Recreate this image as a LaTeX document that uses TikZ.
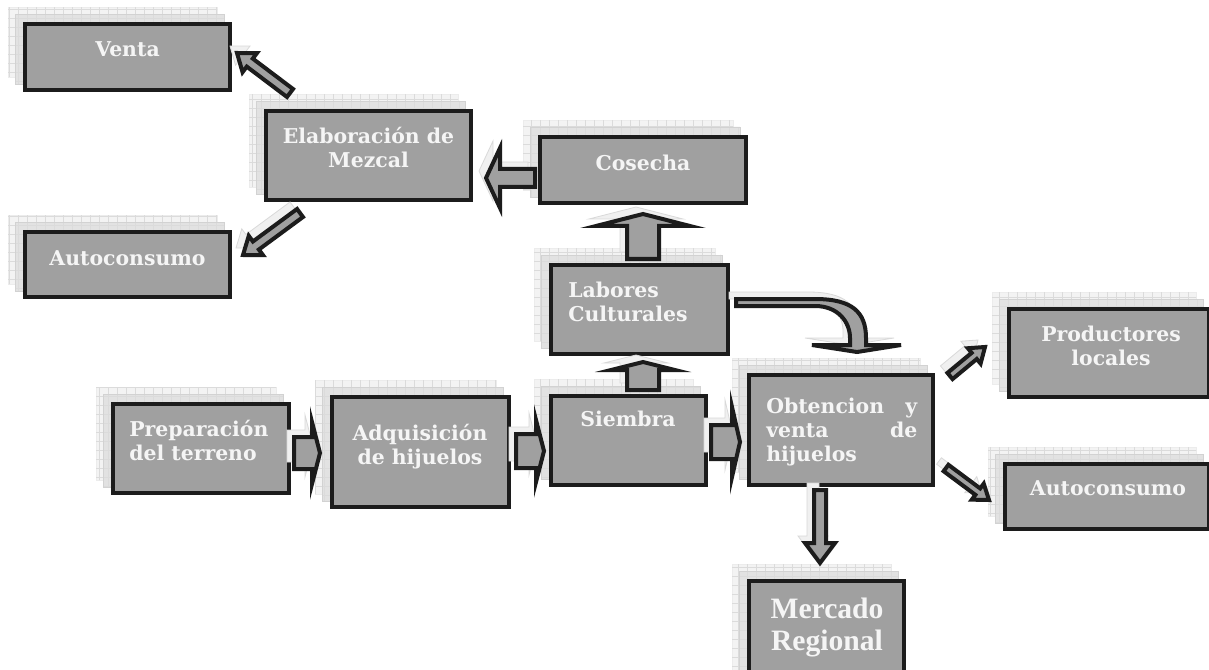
\documentclass[tikz,border=0pt]{standalone}
\usepackage{fontspec}
\setmainfont{DejaVu Serif}
\newfontfamily\timesf{Liberation Serif}
\usetikzlibrary{calc}
\definecolor{boxgray}{HTML}{A0A0A0}
\definecolor{edge}{HTML}{1C1C1C}
\definecolor{txtw}{HTML}{F5F5F5}
\definecolor{shlightc}{HTML}{F3F3F3}
\definecolor{shmedc}{HTML}{E2E2E2}
\tikzset{
  boxsty/.style={draw=edge, fill=boxgray, line width=3pt, inner sep=0pt},
  txt/.style={text=txtw, inner sep=0pt, font=\bfseries\fontsize{15.3pt}{18pt}\selectfont},
  txtbig/.style={text=txtw, inner sep=0pt, font=\timesf\bfseries\fontsize{22.2pt}{24.5pt}\selectfont},
  arrsty/.style={draw=edge, fill=boxgray, line width=3pt, line join=miter},
  ghost/.style={draw=gray!30, fill=gray!12, line width=0.6pt, transform canvas={shift={(-7,-7)}}},
  shlight/.style={fill=shlightc, draw=gray!15, line width=0.5pt},
  shmed/.style={fill=shmedc, draw=gray!35, line width=0.5pt},
  shgrid/.style={draw=gray!28, line width=0.25pt}
}
% box: name, x1, y1, x2, y2 (outer edges in px)
\newcommand\mybox[5]{%
  \fill[shlight] ({#2-15},{#3-15}) rectangle ({#4-15},{#5-15});
  \fill[shmed] ({#2-8},{#3-8}) rectangle ({#4-8},{#5-8});
  \begin{scope}
    \clip ({#2-15},{#3-15}) rectangle ({#4-15},{#5-15}) ({#2-8},{#3-8}) rectangle ({#4-8},{#5-8});
    \draw[shgrid, step=6.75pt] ({#2-15},{#3-15}) grid ({#4-8},{#5-8});
  \end{scope}
  \draw[gray!35, line width=0.5pt] ({#2-8},{#3-8}) rectangle ({#4-8},{#5-8});
  \pgfmathsetmacro\bw{(#4-#2-4)*0.75}%
  \pgfmathsetmacro\bh{(#5-#3-4)*0.75}%
  \node[boxsty, minimum width=\bw pt, minimum height=\bh pt] (#1) at ({(#2+#4)/2},{(#3+#5)/2}) {};
}
% block arrow: [style] start, tip, half shaft, half head, head length (px)
\newcommand\barrow[6][arrsty]{%
  \coordinate (baB) at ($(#3)!{#6*0.75pt}!(#2)$);
  \path[#1] ($(#2)!{#4*0.75pt}!90:(#3)$) -- ($(baB)!{#4*0.75pt}!90:(#3)$)
    -- ($(baB)!{#5*0.75pt}!90:(#3)$) -- (#3) -- ($(baB)!{#5*0.75pt}!-90:(#3)$)
    -- ($(baB)!{#4*0.75pt}!-90:(#3)$) -- ($(#2)!{#4*0.75pt}!-90:(#3)$) -- cycle;
}
\begin{document}
\begin{tikzpicture}[x=0.75pt,y=-0.75pt]
\useasboundingbox (0,0) rectangle (1209,670);
\fill[white] (0,0) rectangle (1209,670);

% boxes
\mybox{venta}{23}{22}{232}{92}
\mybox{elab}{264}{109}{473}{202}
\mybox{autoL}{23}{230}{232}{299}
\mybox{cosecha}{538}{135}{748}{205}
\mybox{labores}{549}{263}{730}{356}
\mybox{siembra}{549}{394}{708}{487}
\mybox{obt}{747}{373}{935}{487}
\mybox{prep}{111}{402}{291}{495}
\mybox{adq}{330}{395}{511}{509}
\mybox{prod}{1007}{307}{1211}{399}
\mybox{autoR}{1003}{462}{1211}{531}
\mybox{merc}{747}{579}{906}{685}

% texts
\node[txt, anchor=base] (tventa) at (127.5,57) {\parbox[t]{150pt}{\centering Venta}};
\node[txt, anchor=base] (telab) at (368.5,144) {\parbox[t]{150pt}{\centering Elaboración de\\Mezcal}};
\node[txt, anchor=base] (tautoL) at (127.5,266) {\parbox[t]{150pt}{\centering Autoconsumo}};
\node[txt, anchor=base] (tcosecha) at (643,171) {\parbox[t]{150pt}{\centering Cosecha}};
\node[txt, anchor=base west] (tlabores) at (568,297) {\parbox[t]{120pt}{\raggedright Labores\\Culturales}};
\node[txt, anchor=base] (tsiembra) at (628,426) {\parbox[t]{110pt}{\centering Siembra}};
\node[txt, anchor=base west] (tobt) at (766,413) {\parbox[t]{113.25pt}{Obtencion\hfill y\\venta\hfill de\\hijuelos}};
\node[txt, anchor=base west] (tprep) at (129,436) {\parbox[t]{120pt}{\raggedright Preparación\\del terreno}};
\node[txt, anchor=base] (tadq) at (420,440) {\parbox[t]{130pt}{\centering Adquisición\\de hijuelos}};
\node[txt, anchor=base] (tprod) at (1111,341) {\parbox[t]{140pt}{\centering Productores\\locales}};
\node[txt, anchor=base] (tautoR) at (1108,495) {\parbox[t]{140pt}{\centering Autoconsumo}};
\node[txtbig, anchor=base] (tmerc) at (827,618) {\parbox[t]{115pt}{\centering Mercado\\Regional}};

% arrow end points
\coordinate (c2e-s) at (535,178);  \coordinate (c2e-t) at (486,178);
\coordinate (l2c-s) at (643,259);  \coordinate (l2c-t) at (643,214);
\coordinate (s2l-s) at (643,390);  \coordinate (s2l-t) at (643,362);
\coordinate (p2a-s) at (294,453);  \coordinate (p2a-t) at (320,453);
\coordinate (a2s-s) at (516,451);  \coordinate (a2s-t) at (544,451);
\coordinate (s2o-s) at (711,442);  \coordinate (s2o-t) at (740,442);
\coordinate (e2v-s) at (290,93);   \coordinate (e2v-t) at (237,53);
\coordinate (e2a-s) at (300,213);  \coordinate (e2a-t) at (243,255);
\coordinate (o2p-s) at (950,376);  \coordinate (o2p-t) at (985,347);
\coordinate (o2a-s) at (946,468);  \coordinate (o2a-t) at (989,500);
\coordinate (o2m-s) at (820,490);  \coordinate (o2m-t) at (820,563);

% ghosts
\barrow[ghost]{c2e-s}{c2e-t}{9}{30}{14}
\barrow[ghost]{l2c-s}{l2c-t}{16}{47}{12}
\barrow[ghost]{s2l-s}{s2l-t}{16}{32}{8}
\barrow[ghost]{p2a-s}{p2a-t}{16}{31}{8}
\barrow[ghost]{a2s-s}{a2s-t}{17}{31}{8}
\barrow[ghost]{s2o-s}{s2o-t}{17}{35}{8}
\barrow[ghost]{e2v-s}{e2v-t}{5}{12}{16}
\barrow[ghost]{e2a-s}{e2a-t}{5}{12}{16}
\barrow[ghost]{o2p-s}{o2p-t}{4}{10}{14}
\barrow[ghost]{o2a-s}{o2a-t}{4}{10}{14}
\barrow[ghost]{o2m-s}{o2m-t}{6}{15}{20}
\path[ghost] (736,299) -- (815,299) .. controls (852,299) and (866,312) .. (866,338) -- (866,345)
  -- (901,345) -- (857,352) -- (812,345) -- (850,345) -- (850,338)
  .. controls (850,322) and (838,306) .. (815,306) -- (736,306) -- cycle;

% arrows
\barrow{c2e-s}{c2e-t}{9}{30}{14}
\barrow{l2c-s}{l2c-t}{16}{47}{12}
\barrow{s2l-s}{s2l-t}{16}{32}{8}
\barrow{p2a-s}{p2a-t}{16}{31}{8}
\barrow{a2s-s}{a2s-t}{17}{31}{8}
\barrow{s2o-s}{s2o-t}{17}{35}{8}
\barrow{e2v-s}{e2v-t}{5}{12}{16}
\barrow{e2a-s}{e2a-t}{5}{12}{16}
\barrow{o2p-s}{o2p-t}{4}{10}{14}
\barrow{o2a-s}{o2a-t}{4}{10}{14}
\barrow{o2m-s}{o2m-t}{6}{15}{20}
% curved arrow Labores -> Obtencion
\coordinate (l2o-s) at (736,302.5);
\path[arrsty] (l2o-s) ++(0,-3.5) -- (815,299) .. controls (852,299) and (866,312) .. (866,338) -- (866,345)
  -- (901,345) -- (857,352) -- (812,345) -- (850,345) -- (850,338)
  .. controls (850,322) and (838,306) .. (815,306) -- (736,306) -- cycle;
\end{tikzpicture}
\end{document}
